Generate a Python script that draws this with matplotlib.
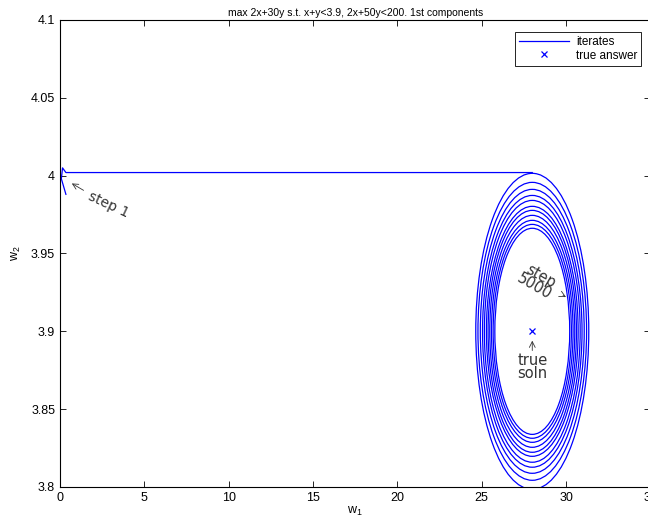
import numpy as np
import matplotlib
matplotlib.use("Agg")
import matplotlib.pyplot as plt
from matplotlib.patches import Ellipse
from matplotlib.lines import Line2D

# lead-in of the iterates (start wiggle, then flat run to the spiral)
lead_x = [0.35, 0.08, 0.15, 0.35, 28.0]
lead_y = [3.988, 3.998, 4.005, 4.002, 4.002]

# rings of the spiral around the answer (semi-axes read per turn)
center = (28.0, 3.9)
ring_a = [3.35, 3.22, 3.08, 2.95, 2.84, 2.72, 2.62, 2.52, 2.42, 2.32, 2.22]
ring_b = [0.1015, 0.0957, 0.0912, 0.0873, 0.0841, 0.0803, 0.0777, 0.0745, 0.0713, 0.0687, 0.0662]

true_x = [28.0]
true_y = [3.9]

xticks = [0, 5, 10, 15, 20, 25, 30, 35]
yticks = [3.8, 3.85, 3.9, 3.95, 4.0, 4.05, 4.1]
ytick_labels = ["3.8", "3.85", "3.9", "3.95", "4", "4.05", "4.1"]

plt.rcParams['font.family'] = ['Liberation Sans', 'DejaVu Sans']
plt.rcParams['mathtext.fontset'] = 'custom'
plt.rcParams['mathtext.rm'] = 'Liberation Sans'
plt.rcParams['mathtext.it'] = 'Liberation Sans'

fig = plt.figure(figsize=(6.48, 5.29), dpi=100)
ax = fig.add_axes([0.0926, 0.0794, 0.911, 0.8828])

ax.plot(lead_x, lead_y, color='blue', lw=0.9)
for a, b in zip(ring_a, ring_b):
    ax.add_patch(Ellipse(center, 2 * a, 2 * b, fill=False, edgecolor='blue', lw=0.9))
ax.plot(true_x, true_y, 'x', color='blue', ms=4, mew=0.9)

ax.set_xlim(0, 35)
ax.set_ylim(3.8, 4.1)
ax.set_xticks(xticks)
ax.set_yticks(yticks)
ax.set_yticklabels(ytick_labels)
ax.tick_params(direction='in', top=True, right=True, labelsize=9, length=4, width=0.6)
for s in ax.spines.values():
    s.set_linewidth(0.8)

ax.set_title("max 2x+30y s.t. x+y<3.9, 2x+50y<200. 1st components", fontsize=7.5, pad=3)
ax.set_xlabel(r"w$_1$", fontsize=9, labelpad=1)
ax.set_ylabel(r"w$_2$", fontsize=9, labelpad=6)

# annotations
ann_col = '#333333'
ax.annotate("step 1", xy=(0.7, 3.995), xytext=(2.9, 3.981), fontsize=10, color=ann_col,
            family='DejaVu Sans', rotation=-25, ha='center', va='center',
            arrowprops=dict(arrowstyle='->', color=ann_col, lw=0.6, shrinkA=13, shrinkB=0))
ax.annotate("step\n5000", xy=(30.0, 3.922), xytext=(28.3, 3.932), fontsize=10.5, color=ann_col,
            family='DejaVu Sans', rotation=-30, ha='center', va='center', linespacing=0.75,
            arrowprops=dict(arrowstyle='->', color=ann_col, lw=0.6, shrinkA=16, shrinkB=0))
ax.annotate("true\nsoln", xy=(28.0, 3.894), xytext=(28.0, 3.877), fontsize=10.5, color=ann_col,
            family='DejaVu Sans', ha='center', va='center', linespacing=0.8,
            arrowprops=dict(arrowstyle='->', color=ann_col, lw=0.6, shrinkA=12, shrinkB=0))

handles = [Line2D([], [], color='blue', lw=0.9),
           Line2D([], [], color='blue', marker='x', ls='none', ms=4, mew=0.9)]
leg = ax.legend(handles, ["iterates", "true answer"], loc='upper right',
                bbox_to_anchor=(0.985, 0.975), fontsize=8.5, fancybox=False,
                edgecolor='black', framealpha=1, borderpad=0.35, handlelength=4.2,
                labelspacing=0.15, borderaxespad=0, handletextpad=0.6)
leg.get_frame().set_linewidth(0.6)

fig.savefig("out.png", dpi=100)
